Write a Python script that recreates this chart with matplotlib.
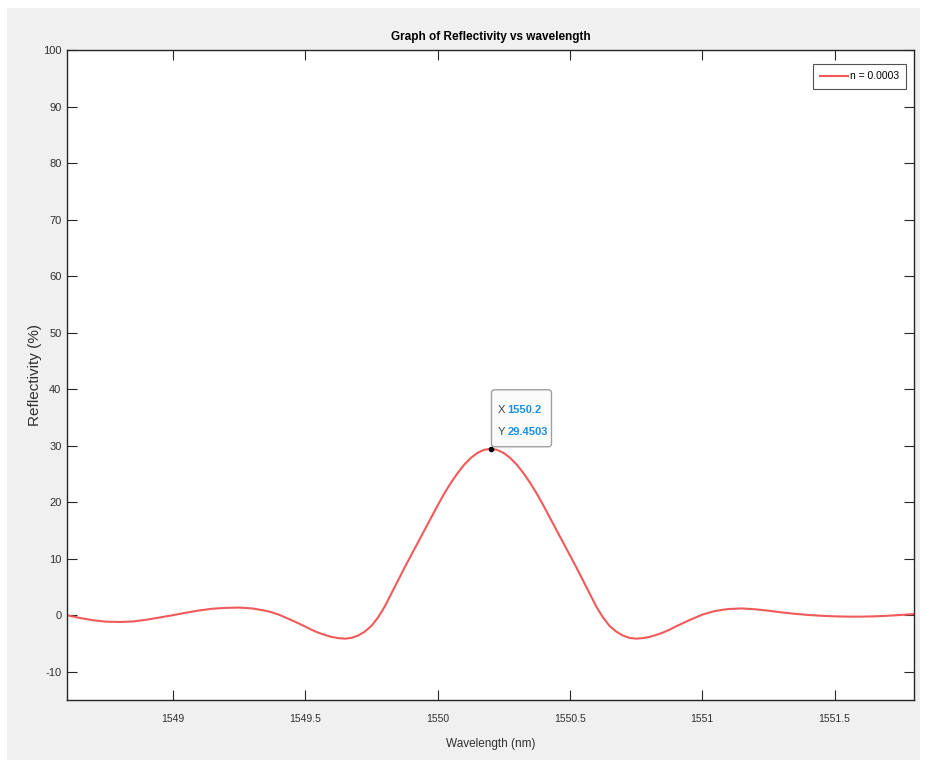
import matplotlib
matplotlib.use("Agg")
import matplotlib.pyplot as plt
import matplotlib.transforms as mtransforms
from matplotlib.patches import FancyBboxPatch, Rectangle

# ---- data ----
wavelength = [1548.60, 1548.65, 1548.70, 1548.75, 1548.80, 1548.85, 1548.90, 1548.95,
              1549.00, 1549.05, 1549.10, 1549.15, 1549.20, 1549.25,
              1549.300, 1549.325, 1549.350, 1549.375, 1549.400, 1549.425, 1549.450,
              1549.475, 1549.500, 1549.525, 1549.550, 1549.575, 1549.600, 1549.625,
              1549.650, 1549.675, 1549.700, 1549.725, 1549.750, 1549.775, 1549.800,
              1549.825, 1549.850, 1549.875, 1549.900, 1549.925, 1549.950, 1549.975,
              1550.000, 1550.025, 1550.050, 1550.075, 1550.100, 1550.125, 1550.150,
              1550.175, 1550.200, 1550.225, 1550.250, 1550.275, 1550.300, 1550.325,
              1550.350, 1550.375, 1550.400, 1550.425, 1550.450, 1550.475, 1550.500,
              1550.525, 1550.550, 1550.575, 1550.600, 1550.625, 1550.650, 1550.675,
              1550.700, 1550.725, 1550.750, 1550.775, 1550.800, 1550.825, 1550.850,
              1550.875, 1550.900, 1550.925, 1550.950, 1550.975, 1551.000, 1551.025,
              1551.050, 1551.075, 1551.100,
              1551.15, 1551.20, 1551.25, 1551.30, 1551.35, 1551.40, 1551.45, 1551.50,
              1551.55, 1551.60, 1551.65, 1551.70, 1551.75, 1551.80]
reflectivity = [0.0, -0.5, -0.9, -1.15, -1.2, -1.1, -0.8, -0.4,
                0.0, 0.45, 0.85, 1.15, 1.3, 1.35,
                1.2, 1.0, 0.8, 0.5, 0.1, -0.4, -0.9,
                -1.45, -2.0, -2.6, -3.1, -3.5, -3.85, -4.05,
                -4.15, -4.0, -3.6, -2.9, -1.9, -0.4, 1.5,
                3.8, 6.1, 8.4, 10.6, 12.8, 15.0, 17.2,
                19.4, 21.5, 23.4, 25.1, 26.6, 27.8, 28.7,
                29.25, 29.4503, 29.25, 28.7, 27.8, 26.6, 25.1,
                23.4, 21.5, 19.4, 17.2, 15.0, 12.8, 10.6,
                8.4, 6.1, 3.8, 1.5, -0.4, -1.9, -2.9,
                -3.6, -4.0, -4.15, -4.05, -3.85, -3.5, -3.1,
                -2.6, -2.0, -1.45, -0.9, -0.4, 0.1, 0.45,
                0.75, 0.95, 1.1,
                1.2, 1.05, 0.8, 0.5, 0.25, 0.05, -0.1, -0.2,
                -0.25, -0.25, -0.2, -0.1, 0.05, 0.2]
series_label = "n = 0.0003"
tip_x = 1550.2
tip_y = 29.4503
x_ticks = [1549, 1549.5, 1550, 1550.5, 1551, 1551.5]
x_ticklabels = ["1549", "1549.5", "1550", "1550.5", "1551", "1551.5"]
y_ticks = [-10, 0, 10, 20, 30, 40, 50, 60, 70, 80, 90, 100]

plt.rcParams['font.family'] = ['Liberation Sans', 'DejaVu Sans']
TXT = '#303030'

W, H = 926, 763
fig = plt.figure(figsize=(W / 100, H / 100), dpi=100, facecolor='white')
fig.patches.append(Rectangle((7 / W, 3 / H), (920 - 7) / W, (755 - 3) / H,
                             transform=fig.transFigure, facecolor='#f0f0f0',
                             edgecolor='none', zorder=-10))
ax = fig.add_axes([67 / W, 1 - 700 / H, (914 - 67) / W, (700 - 50) / H])
ax.set_facecolor('white')

ax.plot(wavelength, reflectivity, color='#f25a5a', lw=1.5, label=series_label,
        solid_joinstyle='round')
ax.set_xlim(1548.6, 1551.8)
ax.set_ylim(-15, 100)
ax.set_xticks(x_ticks)
ax.set_xticklabels(x_ticklabels, fontsize=7.5)
ax.set_yticks(y_ticks)
ax.set_yticklabels([str(v) for v in y_ticks], fontsize=8)
ax.tick_params(direction='in', length=7, width=0.8, color='#262626',
               top=True, right=True, labelcolor=TXT)
ax.tick_params(axis='x', pad=10)
ax.tick_params(axis='y', pad=4)
for s in ax.spines.values():
    s.set_color('#262626')
    s.set_linewidth(1.0)

ax.set_title('Graph of Reflectivity vs wavelength', fontweight='bold',
             fontsize=8.5, color='black', pad=7)
ax.set_xlabel('Wavelength (nm)', fontsize=8.5, color=TXT, labelpad=10)
ax.set_ylabel('Reflectivity (%)', fontsize=11, color=TXT, labelpad=0.5)

leg = ax.legend(loc='upper right', prop={'size': 7.5},
                frameon=True, fancybox=False, edgecolor='#262626',
                bbox_to_anchor=(1 - 8 / 847, 1 - 14 / 650), borderaxespad=0,
                handlelength=2.6, handletextpad=0.2, borderpad=0.7)
leg.get_frame().set_linewidth(0.8)

# data tip
ax.plot([tip_x], [tip_y], 'o', color='black', ms=3, zorder=5)
tip_trans = mtransforms.Affine2D() + mtransforms.ScaledTranslation(tip_x, tip_y, ax.transData)
box = FancyBboxPatch((1, 2), 60, 57, boxstyle='round,pad=0,rounding_size=3',
                     transform=tip_trans, facecolor='#fbfbfb', edgecolor='#a0a0a0',
                     lw=1.0, clip_on=False, zorder=6)
ax.add_patch(box)
for dy, lab, val in [(39, 'X', f'{tip_x}'), (17, 'Y', f'{tip_y}')]:
    ax.annotate(lab, xy=(tip_x, tip_y), xytext=(7, dy), textcoords='offset pixels',
                ha='left', va='center', fontsize=8, color='#404040', zorder=7)
    ax.annotate(val, xy=(tip_x, tip_y), xytext=(17, dy), textcoords='offset pixels',
                ha='left', va='center', fontsize=8, color='#1a8fe6', zorder=7,
                fontweight='bold')

fig.savefig('out.png', dpi=100, facecolor=fig.get_facecolor())
